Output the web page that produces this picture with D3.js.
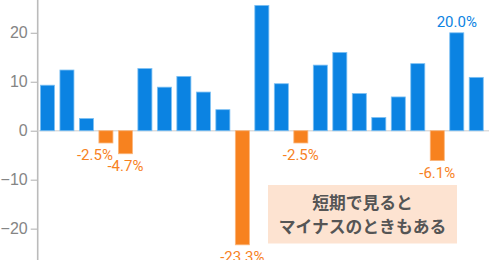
<!DOCTYPE html>
<html>
<head>
<meta charset="utf-8">
<script src="https://cdn.jsdelivr.net/npm/d3@7"></script>
<style>
  body { margin: 0; background: #fff; }
  svg { display: block; font-family: Roboto, "Noto Sans", sans-serif; }
</style>
</head>
<body>
<svg width="497" height="260"></svg>
<script>
// yearly returns (%)
var years = d3.range(1, 24);
var values = [9.3, 12.4, 2.5, -2.5, -4.7, 12.7, 8.9, 11.1, 7.9, 4.3, -23.3, 25.6, 9.6, -2.5, 13.4, 16.0, 7.6, 2.7, 6.9, 13.7, -6.1, 20.0, 10.9];
var labelled = [3, 4, 10, 13, 20, 21];
var yTicks = [-20, -10, 0, 10, 20];
var note = ["短期で見ると", "マイナスのときもある"];

var svg = d3.select("svg");
var width = 497, height = 260;
var left = 37.7, right = 486;

var blue = "#0b83e2", orange = "#f7821f";

var x = d3.scaleBand()
    .domain(years)
    .range([left, right])
    .paddingInner(0.28)
    .paddingOuter(0.14);

var y = d3.scaleLinear()
    .domain([-26.4, 26.7])
    .range([height, 0]);

// y axis
var yAxis = svg.append("g")
    .attr("transform", "translate(" + left + ",0)")
    .call(d3.axisLeft(y).tickValues(yTicks).tickSize(7).tickPadding(3));
yAxis.select(".domain").remove();
yAxis.selectAll("line").attr("stroke", "#bbb").attr("stroke-width", 1.2);
yAxis.selectAll("text").attr("fill", "#858585").attr("font-size", 16);

svg.append("line")
    .attr("x1", left).attr("x2", left)
    .attr("y1", 0).attr("y2", height)
    .attr("stroke", "#bbb").attr("stroke-width", 1.6);

// zero line
svg.append("line")
    .attr("x1", left).attr("x2", right + 3)
    .attr("y1", y(0)).attr("y2", y(0))
    .attr("stroke", "#ddd").attr("stroke-width", 1.5);

// bars
svg.append("g").selectAll("rect")
    .data(values)
    .enter().append("rect")
      .attr("x", function(d, i) { return x(years[i]); })
      .attr("width", x.bandwidth())
      .attr("y", function(d) { return y(Math.max(0, d)); })
      .attr("height", function(d) { return Math.abs(y(d) - y(0)); })
      .attr("fill", function(d) { return d < 0 ? orange : blue; })
      .attr("stroke", function(d) { return d < 0 ? "#fbb57a" : "#7cc0f3"; })
      .attr("stroke-width", 0.8);

// value labels
svg.append("g").selectAll("text")
    .data(labelled)
    .enter().append("text")
      .attr("x", function(i) {
        var cx = x(years[i]) + x.bandwidth() / 2;
        return i == 3 ? cx - 11 : cx;
      })
      .attr("y", function(i) { return values[i] < 0 ? y(values[i]) + 17.5 : y(values[i]) - 5.5; })
      .attr("text-anchor", "middle")
      .attr("font-size", 15)
      .attr("fill", function(i) { return values[i] < 0 ? orange : blue; })
      .text(function(i) { return values[i].toFixed(1) + "%"; });

// note box
var box = svg.append("g");
box.append("rect")
    .attr("x", 268).attr("y", 185)
    .attr("width", 189).attr("height", 58.5)
    .attr("fill", "#fde3d1");
box.selectAll("text")
    .data(note)
    .enter().append("text")
      .attr("x", 362.5)
      .attr("y", function(d, i) { return 209 + i * 23.5; })
      .attr("text-anchor", "middle")
      .attr("font-family", "'Noto Sans CJK JP', sans-serif")
      .attr("font-weight", "bold")
      .attr("font-size", 16.8)
      .attr("fill", "#555")
      .text(function(d) { return d; });
</script>
</body>
</html>
